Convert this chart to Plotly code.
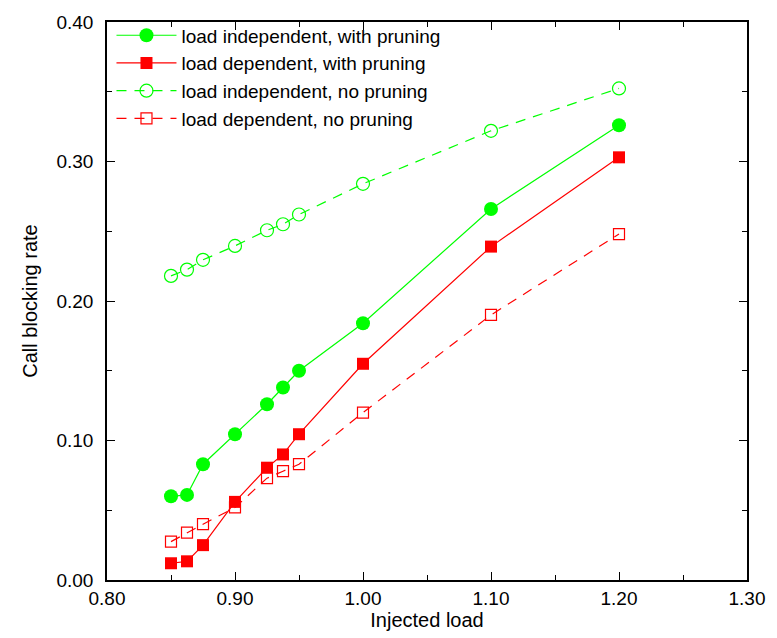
import plotly.graph_objects as go

load = [0.85, 0.8625, 0.875, 0.90, 0.925, 0.9375, 0.95, 1.00, 1.10, 1.20]
indep_prune = [0.060, 0.061, 0.083, 0.1045, 0.126, 0.138, 0.150, 0.184, 0.266, 0.326]
dep_prune = [0.012, 0.0134, 0.025, 0.056, 0.0805, 0.090, 0.1045, 0.155, 0.239, 0.303]
indep_noprune = [0.218, 0.2225, 0.2295, 0.2395, 0.2507, 0.255, 0.262, 0.284, 0.322, 0.3524]
dep_noprune = [0.0275, 0.034, 0.040, 0.052, 0.073, 0.078, 0.083, 0.120, 0.190, 0.248]

names = ["load independent, with pruning", "load dependent, with pruning",
         "load independent, no pruning", "load dependent, no pruning"]
GREEN = "#00ff00"
RED = "#ff0000"
FONT = "Liberation Sans, Arial, sans-serif"

fig = go.Figure()
fig.add_trace(go.Scatter(x=load, y=indep_prune, name=names[0], mode="lines+markers",
                         line=dict(color=GREEN, width=1.2),
                         marker=dict(symbol="circle", size=14, color=GREEN)))
fig.add_trace(go.Scatter(x=load, y=dep_prune, name=names[1], mode="lines+markers",
                         line=dict(color=RED, width=1.2),
                         marker=dict(symbol="square", size=12, color=RED)))
fig.add_trace(go.Scatter(x=load, y=indep_noprune, name=names[2], mode="lines+markers",
                         line=dict(color=GREEN, width=1.2, dash="10px,8px"),
                         marker=dict(symbol="circle-open", size=13, color=GREEN, line=dict(width=1.2))))
fig.add_trace(go.Scatter(x=load, y=dep_noprune, name=names[3], mode="lines+markers",
                         line=dict(color=RED, width=1.2, dash="10px,8px"),
                         marker=dict(symbol="square-open", size=11, color=RED, line=dict(width=1.2))))

axis_common = dict(showline=True, linecolor="black", linewidth=1.5, mirror="ticks",
                   ticks="inside", ticklen=8, tickcolor="black", tickwidth=1,
                   showgrid=False, zeroline=False, tickformat=".2f",
                   tickfont=dict(family=FONT, size=19, color="black"))

fig.update_xaxes(range=[0.80, 1.30], dtick=0.1, tick0=0.8,
                 minor=dict(ticks="inside", ticklen=5, dtick=0.05, tickcolor="black"),
                 title=dict(text="Injected load", font=dict(family=FONT, size=20, color="black"), standoff=3),
                 **axis_common)
fig.update_yaxes(range=[0.0, 0.40], dtick=0.1, tick0=0,
                 minor=dict(ticks="inside", ticklen=5, dtick=0.05, tickcolor="black"),
                 title=dict(text="Call blocking rate", font=dict(family=FONT, size=20, color="black"), standoff=13),
                 ticklabelstandoff=8,
                 **axis_common)

fig.update_layout(
    width=777, height=638,
    margin=dict(l=107, r=24, t=16, b=56),
    plot_bgcolor="white", paper_bgcolor="white",
    font=dict(family=FONT, color="black"),
    legend=dict(x=0.007, y=1.01, xanchor="left", yanchor="top",
                bgcolor="rgba(0,0,0,0)", font=dict(family=FONT, size=19, color="black"),
                itemwidth=60, tracegroupgap=0),
    showlegend=True,
)

fig.write_html("out.html")
